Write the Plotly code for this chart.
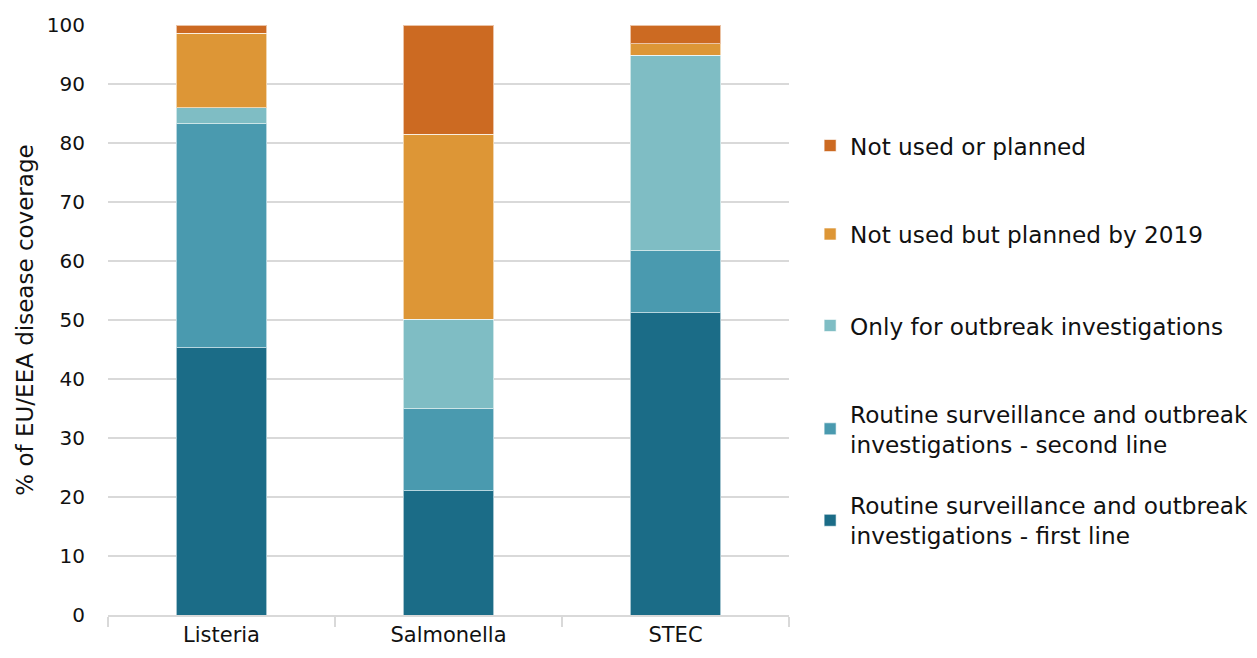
import plotly.graph_objects as go

# Share of EU/EEA disease coverage by use of whole genome sequencing
pathogens = ["Listeria", "Salmonella", "STEC"]

first_line = [45.3, 21.1, 51.2]
second_line = [38.0, 13.9, 10.5]
outbreak_only = [2.7, 15.1, 33.2]
planned_2019 = [12.6, 31.4, 1.9]
not_used = [1.4, 18.5, 3.2]

series = [
    ("Routine surveillance and outbreak<br>investigations - first line", first_line, "#1B6C87"),
    ("Routine surveillance and outbreak<br>investigations - second line", second_line, "#4A9AAF"),
    ("Only for outbreak investigations", outbreak_only, "#7FBDC4"),
    ("Not used but planned by 2019", planned_2019, "#DD9636"),
    ("Not used or planned", not_used, "#CC6A22"),
]

# vertical centre (paper units) of each legend entry, bottom to top
legend_y = [0.16, 0.315, 0.49, 0.645, 0.795]

FONT = "DejaVu Sans"
fig = go.Figure()
layout_legends = {}
for i, (name, vals, color) in enumerate(series):
    key = "legend" if i == 0 else f"legend{i + 1}"
    fig.add_trace(go.Bar(
        x=pathogens, y=vals, name=name,
        marker=dict(color=color, line=dict(color="rgba(255,255,255,0.6)", width=1)),
        legend=key,
    ))
    layout_legends[key] = dict(
        x=1.031, xanchor="left", y=legend_y[i], yanchor="middle",
        font=dict(family=FONT, size=23.2, color="#111111"),
        bgcolor="rgba(0,0,0,0)", itemwidth=30,
    )

fig.update_layout(
    barmode="stack",
    bargap=0.6,
    width=1257, height=658,
    margin=dict(l=108, r=468, t=25, b=43, pad=0, autoexpand=False),
    paper_bgcolor="white", plot_bgcolor="white",
    font=dict(family=FONT, size=20, color="#111111"),
    showlegend=True,
    **layout_legends,
)
fig.update_yaxes(
    range=[0, 100], dtick=10, showgrid=True, gridcolor="#D9D9D9", gridwidth=1.5,
    zeroline=False, showline=False, ticks="", ticklabelstandoff=22,
    tickfont=dict(family=FONT, size=20, color="#111111"),
    title=dict(text="% of EU/EEA disease coverage", standoff=6,
               font=dict(family=FONT, size=23, color="#111111")),
)
fig.update_xaxes(
    showline=True, linecolor="#D9D9D9", linewidth=1.5,
    ticks="outside", tickson="boundaries", ticklen=10, tickcolor="#D9D9D9", tickwidth=1.5,
    tickfont=dict(family=FONT, size=21, color="#111111"),
)

fig.write_html("out.html")
